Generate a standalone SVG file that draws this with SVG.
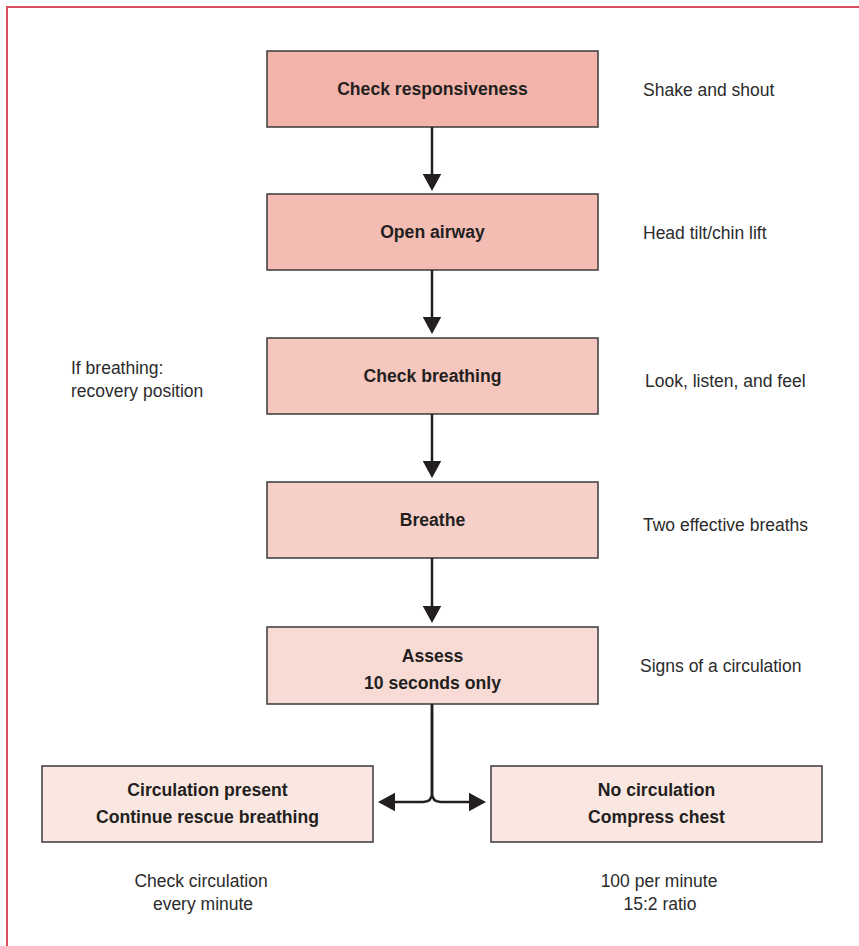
<svg xmlns="http://www.w3.org/2000/svg" width="859" height="946" viewBox="0 0 859 946">
<style>
.box{stroke:#3a3a3a;stroke-width:1.5}
.lbl{font-family:"Liberation Sans",Arial,sans-serif;font-size:17.6px;font-weight:bold;fill:#231f20;text-anchor:middle}
.side{font-family:"Liberation Sans",Arial,sans-serif;font-size:17.5px;fill:#2b2b2b}
.mid{text-anchor:middle}
.conn{fill:none;stroke:#231f20;stroke-width:2.5}
</style>
<defs>
<marker id="ah" markerUnits="userSpaceOnUse" markerWidth="18" markerHeight="19" refX="9" refY="9.25" orient="auto" viewBox="0 0 18 18.5">
<path d="M0,0 L17,9.25 L0,18.5 z" fill="#231f20"/>
</marker>
</defs>
<rect x="7" y="7" width="900" height="1000" fill="#fff" stroke="#dc4d5f" stroke-width="2"/>

<g id="n1">
<rect class="box" x="267" y="51" width="331" height="76" fill="#f2b3aa"/>
<text class="lbl" x="432.5" y="95">Check responsiveness</text>
</g>
<g id="n2">
<rect class="box" x="267" y="194" width="331" height="76" fill="#f4bdb4"/>
<text class="lbl" x="432.5" y="238">Open airway</text>
</g>
<g id="n3">
<rect class="box" x="267" y="338" width="331" height="76" fill="#f5c7be"/>
<text class="lbl" x="432.5" y="382">Check breathing</text>
</g>
<g id="n4">
<rect class="box" x="267" y="482" width="331" height="76" fill="#f6d0c8"/>
<text class="lbl" x="432.5" y="526">Breathe</text>
</g>
<g id="n5">
<rect class="box" x="267" y="627" width="331" height="77" fill="#f8dbd5"/>
<text class="lbl" x="432.5" y="662">Assess</text>
<text class="lbl" x="432.5" y="689">10 seconds only</text>
</g>
<g id="n6">
<rect class="box" x="42" y="766" width="331" height="76" fill="#fae7e1"/>
<text class="lbl" x="207.5" y="796">Circulation present</text>
<text class="lbl" x="207.5" y="823">Continue rescue breathing</text>
</g>
<g id="n7">
<rect class="box" x="491" y="766" width="331" height="76" fill="#fae7e1"/>
<text class="lbl" x="656.5" y="796">No circulation</text>
<text class="lbl" x="656.5" y="823">Compress chest</text>
</g>

<g id="notes">
<text class="side" x="643" y="96">Shake and shout</text>
<text class="side" x="643" y="239">Head tilt/chin lift</text>
<text class="side" x="645" y="387">Look, listen, and feel</text>
<text class="side" x="643" y="531">Two effective breaths</text>
<text class="side" x="640" y="672">Signs of a circulation</text>
<text class="side" x="71" y="374">If breathing:</text>
<text class="side" x="71" y="397">recovery position</text>
<text class="side mid" x="201" y="887">Check circulation</text>
<text class="side mid" x="203" y="910">every minute</text>
<text class="side mid" x="659" y="887">100 per minute</text>
<text class="side mid" x="660" y="910">15:2 ratio</text>
</g>

<g id="connectors">
<path class="conn" d="M432,127 V183" marker-end="url(#ah)"/>
<path class="conn" d="M432,270 V326" marker-end="url(#ah)"/>
<path class="conn" d="M432,414 V470" marker-end="url(#ah)"/>
<path class="conn" d="M432,558 V615" marker-end="url(#ah)"/>
<path class="conn" d="M432,704 V793 Q432,802 423,802 H386" marker-end="url(#ah)"/>
<path class="conn" d="M432,704 V793 Q432,802 441,802 H478" marker-end="url(#ah)"/>
</g>
</svg>
